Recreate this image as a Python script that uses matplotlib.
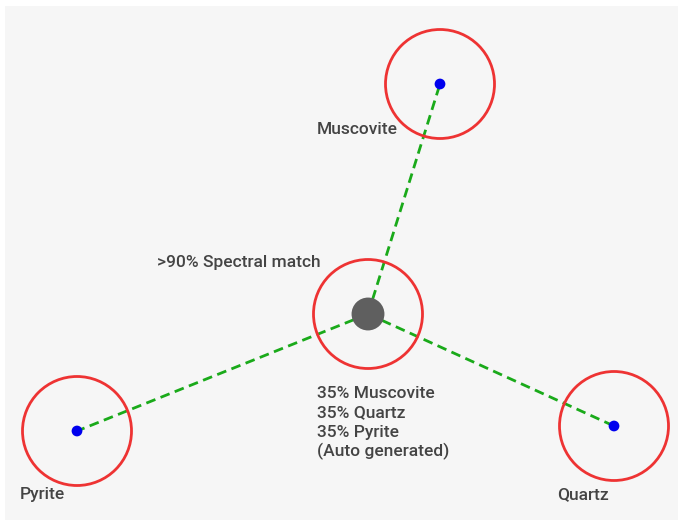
import matplotlib.pyplot as plt
from matplotlib.patches import Circle, Rectangle

# minerals (positions in pixel units of the diagram)
minerals = ['Muscovite', 'Pyrite', 'Quartz']
mx = [440, 77, 614]
my = [84, 431, 426]
# center sample
cx, cy = 368, 314
# labels
label_x = [317, 20, 557]
label_y = [129, 495, 495]
match_text = '>90% Spectral match'
composition = ['35% Muscovite', '35% Quartz', '35% Pyrite', '(Auto generated)']

plt.rcParams['font.family'] = ['Roboto', 'DejaVu Sans']

fig = plt.figure(figsize=(6.78, 5.2), dpi=100)
ax = fig.add_axes([0, 0, 1, 1])
ax.set_xlim(0, 678)
ax.set_ylim(520, 0)
ax.set_aspect('equal')
ax.axis('off')

# fond gris
ax.add_patch(Rectangle((5, 6), 673, 514, facecolor='#f6f6f6', edgecolor='none', zorder=0))

r = 54.5
for x, y in zip(mx, my):
    ax.plot([cx, x], [cy, y], color='#1aaa1a', lw=2, ls=(0, (3.5, 2)), zorder=2)
    ax.add_patch(Circle((x, y), r, facecolor='none', edgecolor='#ee3333', lw=2, zorder=3))
ax.scatter(mx, my, s=60, color='#0000ee', zorder=4, edgecolors='none')

ax.add_patch(Circle((cx, cy), r, facecolor='none', edgecolor='#ee3333', lw=2, zorder=3))
ax.scatter([cx], [cy], s=560, color='#5f5f5f', zorder=5, edgecolors='none')

txt = dict(color='#444444', fontsize=12.5, fontweight='medium')
for name, x, y in zip(minerals, label_x, label_y):
    ax.text(x, y, name, ha='left', va='center', **txt)
ax.text(157, 263, match_text, ha='left', va='center', **txt)
for i, line in enumerate(composition):
    ax.text(317, 393 + i * 19.6, line, ha='left', va='center', **txt)

fig.savefig('out.png', dpi=100)
